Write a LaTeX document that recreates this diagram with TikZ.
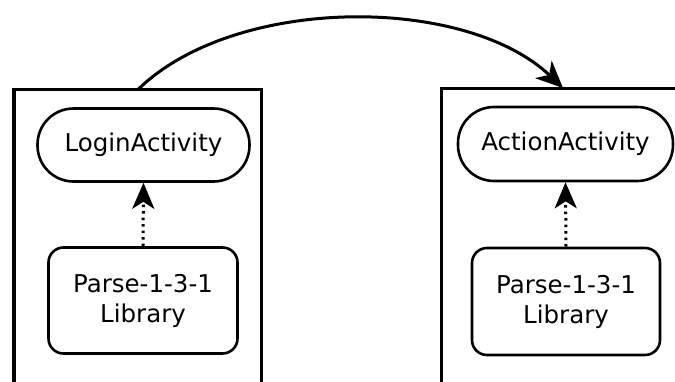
\documentclass[tikz,border=0pt]{standalone}
\usepackage{fontspec}
\setmainfont{DejaVu Sans}
\usetikzlibrary{arrows.meta}
\begin{document}
\begin{tikzpicture}[x=1pt,y=-1pt,
  frame/.style={draw=black,line width=3.5pt},
  pill/.style={draw=black,line width=2.6pt,rounded corners=36pt,minimum width=212pt,minimum height=73pt,inner sep=0pt,font=\fontsize{24.5}{30}\selectfont},
  lib/.style={draw=black,line width=2.6pt,rounded corners=15pt,minimum width=189pt,minimum height=106pt,inner sep=0pt,align=center,font=\fontsize{24.5}{30}\selectfont},
  dep/.style={line width=3pt,dash pattern=on 2.5pt off 4pt,-{Stealth[length=26pt,width=22pt,inset=7pt]}},
  flow/.style={line width=3pt,-{Stealth[length=27pt,width=24pt,inset=8pt]}}]
\useasboundingbox (0,0) rectangle (675,381);
\clip (0,0) rectangle (675,381);
\draw[frame] (14,400) -- (14,89.5) -- (261.5,89.5) -- (261.5,400);
\draw[frame] (441.5,400) -- (441.5,88.5) -- (700,88.5);
\node[pill] (login) at (143.5,145) {LoginActivity};
\node[lib] (libl) at (143,300.5) {Parse-1-3-1\\Library};
\node[pill,minimum width=215pt,minimum height=74pt] (action) at (565.5,144) {ActionActivity};
\node[lib,minimum width=188pt,minimum height=107pt] (libr) at (566,301.5) {Parse-1-3-1\\Library};
\coordinate (src) at (138,89.5);
\coordinate (dst) at (563,88);
\draw[dep] (libl.north) -- (login.south);
\draw[dep] (libr.north) -- (action.south);
\draw[flow] (src) .. controls (235,-5) and (465,-5) .. (dst);
\end{tikzpicture}
\end{document}
